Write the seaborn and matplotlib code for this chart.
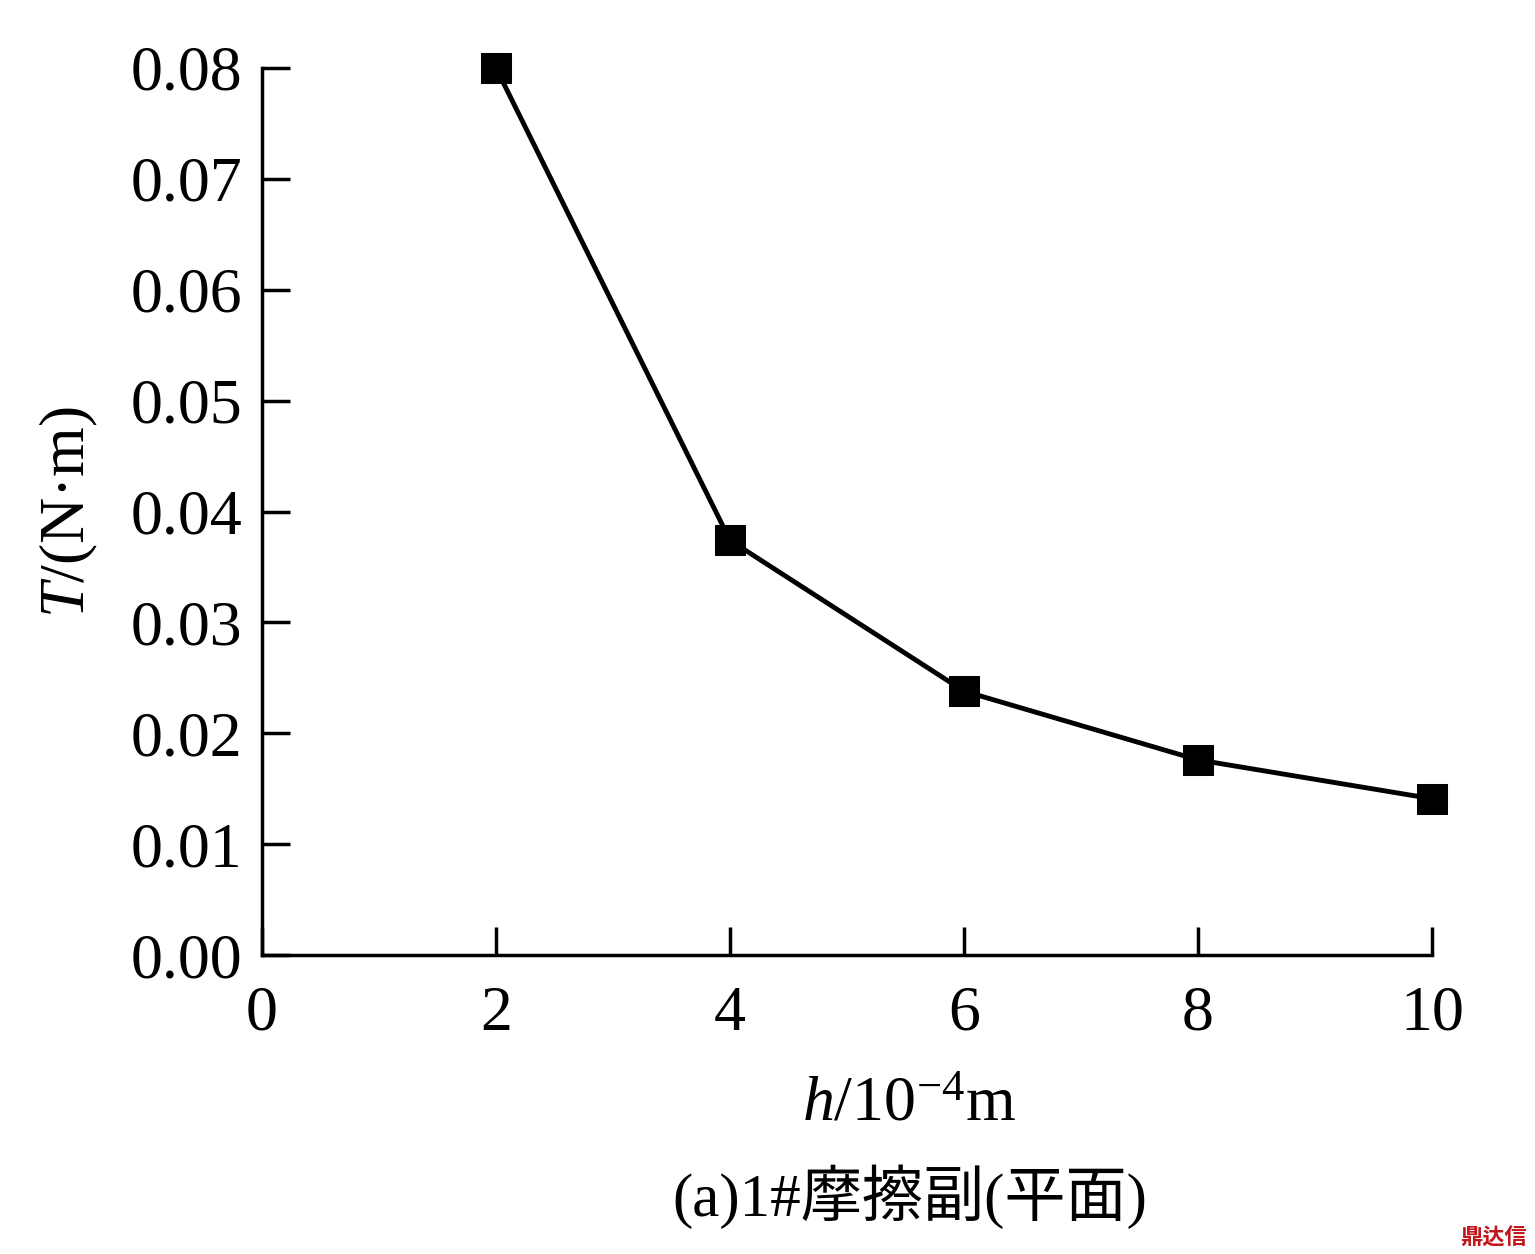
import matplotlib
matplotlib.use("Agg")
import matplotlib.pyplot as plt
import seaborn as sns
import pandas as pd

h = [2, 4, 6, 8, 10]
T = [0.0800, 0.0374, 0.0238, 0.0176, 0.0141]
xticks = [0, 2, 4, 6, 8, 10]
yticks = [0.00, 0.01, 0.02, 0.03, 0.04, 0.05, 0.06, 0.07, 0.08]

df = pd.DataFrame({"h": h, "T": T})
sns.set_style("ticks")
plt.rcParams["font.family"] = "Liberation Serif"
plt.rcParams["mathtext.fontset"] = "custom"
plt.rcParams["mathtext.rm"] = "Liberation Serif"
plt.rcParams["mathtext.it"] = "Liberation Serif:italic"
plt.rcParams["text.color"] = "black"
plt.rcParams["axes.labelcolor"] = "black"
cjk = ["Liberation Serif", "Noto Sans CJK JP", "Noto Sans CJK SC", "Noto Sans CJK TC", "Noto Sans CJK KR"]

fig = plt.figure(figsize=(15.35, 12.54), dpi=100)
ax = fig.add_axes([0.1707, 0.2384, 0.7622, 0.7074])
sns.lineplot(data=df, x="h", y="T", ax=ax, color="black", linewidth=3.5,
             marker="s", markersize=22, markeredgecolor="black")
for l in ax.lines:
    l.set_clip_on(False)
ax.set_xlim(0, 10)
ax.set_ylim(0, 0.08)
ax.set_xticks(xticks)
ax.set_yticks(yticks)
ax.set_xticklabels([str(v) for v in xticks])
ax.set_yticklabels([f"{v:.2f}" for v in yticks])
sns.despine(ax=ax)
for s in ["left", "bottom"]:
    ax.spines[s].set_linewidth(2.5)
    ax.spines[s].set_color("black")
ax.tick_params(direction="in", length=20, width=2.5, labelsize=46, colors="black")
ax.tick_params(axis="x", pad=22)
ax.tick_params(axis="y", pad=14)
ax.set_xlabel(r"$h$/10$^{-4}$m", fontsize=46)
ax.xaxis.set_label_coords(0.553, -0.137)
ax.set_ylabel(r"$T$/(N·m)", fontsize=46, labelpad=22)
fig.text(0.593, 0.03, "(a)1#摩擦副(平面)", fontsize=44, ha="center", fontfamily=cjk)
fig.text(0.995, 0.008, "鼎达信", fontsize=16, ha="right", color="#c0161c",
         fontfamily=cjk[1:], fontweight="bold")
fig.savefig("out.png", dpi=100)
